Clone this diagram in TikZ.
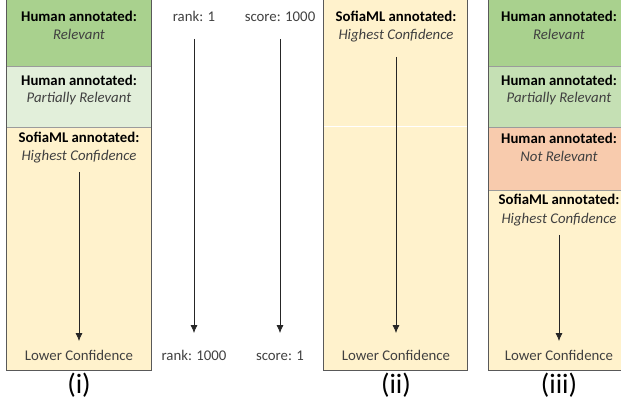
\documentclass[tikz,border=0pt]{standalone}
\usepackage{fontspec}
\setmainfont{Carlito}
\usetikzlibrary{arrows.meta}
\definecolor{relgreen}{HTML}{A9D18E}
\definecolor{partgreen}{HTML}{E2EFDA}
\definecolor{partgreenB}{HTML}{C5E0B4}
\definecolor{notrel}{HTML}{F8CBAD}
\definecolor{mlyellow}{HTML}{FFF2CC}
\definecolor{boxline}{HTML}{595959}
\definecolor{softtext}{HTML}{404040}
\tikzstyle{every node}=[font=\fontsize{14.8}{17}\selectfont,inner sep=0pt,text height=10.5pt,text depth=3pt]
\tikzstyle{band}=[draw=boxline,line width=0.9pt]
\tikzstyle{sep}=[draw=boxline!60,line width=0.5pt]
\tikzstyle{head}=[font=\fontsize{14.8}{17}\selectfont\bfseries]
\tikzstyle{sub}=[font=\fontsize{14.8}{17}\selectfont\itshape,text=softtext]
\tikzstyle{plain}=[text=softtext]
\tikzstyle{flow}=[-{Latex[length=8pt,width=7pt]},line width=0.7pt,draw=black!85]
\tikzstyle{caption}=[font=\fontsize{28}{32}\selectfont,anchor=base,text height=,text depth=]

\begin{document}
\begin{tikzpicture}[x=1pt,y=-1pt]
    \useasboundingbox (0,0) rectangle (621,399);

    % Panel (i): human labels on top of the ML ranking
    \fill[relgreen] (6,-2) rectangle (151,66);
    \fill[partgreen] (6,66) rectangle (151,127);
    \fill[mlyellow] (6,127) rectangle (151,370);
    \draw[sep] (6,66) -- (151,66) (6,127) -- (151,127);
    \draw[band] (6,-2) rectangle (151,370);
    \node[head] (iRelHead) at (79,18) {Human annotated:};
    \node[sub] (iRel) at (79,36) {Relevant};
    \node[head] (iPartHead) at (79,82) {Human annotated:};
    \node[sub] (iPartial) at (79,99) {Partially Relevant};
    \node[head] (iMlHead) at (79,139) {SofiaML annotated:};
    \node[sub] (iHigh) at (79,157) {Highest Confidence};
    \node[plain] (iLow) at (79,357) {Lower Confidence};
    \draw[flow,shorten <=8pt,shorten >=9pt] (iHigh) -- (iLow);
    \node[caption] (capI) at (79,393) {(i)};

    % Rank and score scales
    \node[plain] (rankTop) at (194,18) {rank: 1};
    \node[plain] (rankEnd) at (194,357) {rank: 1000};
    \node[plain] (scoreTop) at (280,18) {score: 1000};
    \node[plain] (scoreEnd) at (280,357) {score: 1};
    \draw[flow,shorten <=14pt,shorten >=17pt] (rankTop) -- (rankEnd);
    \draw[flow,shorten <=14pt,shorten >=17pt] (scoreTop) -- (scoreEnd);

    % Panel (ii): ML ranking only
    \fill[mlyellow] (323,-2) rectangle (467,370);
    \draw[white,line width=0.7pt] (323,126) -- (467,126);
    \draw[band] (323,-2) rectangle (467,370);
    \node[head] (iiMlHead) at (396,18) {SofiaML annotated:};
    \node[sub] (iiHigh) at (396,36) {Highest Confidence};
    \node[plain] (iiLow) at (396,357) {Lower Confidence};
    \draw[flow,shorten <=14pt,shorten >=17pt] (iiHigh) -- (iiLow);
    \node[caption] (capII) at (396,393) {(ii)};

    % Panel (iii): all human labels, then the ML ranking
    \fill[relgreen] (488,-2) rectangle (631,66);
    \fill[partgreenB] (488,66) rectangle (631,127);
    \fill[notrel] (488,127) rectangle (631,190);
    \fill[mlyellow] (488,190) rectangle (631,370);
    \draw[sep] (488,66) -- (631,66) (488,127) -- (631,127) (488,190) -- (631,190);
    \draw[band] (488,-2) rectangle (631,370);
    \node[head] (iiiRelHead) at (559,18) {Human annotated:};
    \node[sub] (iiiRel) at (559,36) {Relevant};
    \node[head] (iiiPartHead) at (559,82) {Human annotated:};
    \node[sub] (iiiPartial) at (559,99) {Partially Relevant};
    \node[head] (iiiNotHead) at (559,140) {Human annotated:};
    \node[sub] (iiiNot) at (559,158) {Not Relevant};
    \node[head] (iiiMlHead) at (559,201) {SofiaML annotated:};
    \node[sub] (iiiHigh) at (559,220) {Highest Confidence};
    \node[plain] (iiiLow) at (559,357) {Lower Confidence};
    \draw[flow,shorten <=8pt,shorten >=9pt] (iiiHigh) -- (iiiLow);
    \node[caption] (capIII) at (559,393) {(iii)};
\end{tikzpicture}
\end{document}
